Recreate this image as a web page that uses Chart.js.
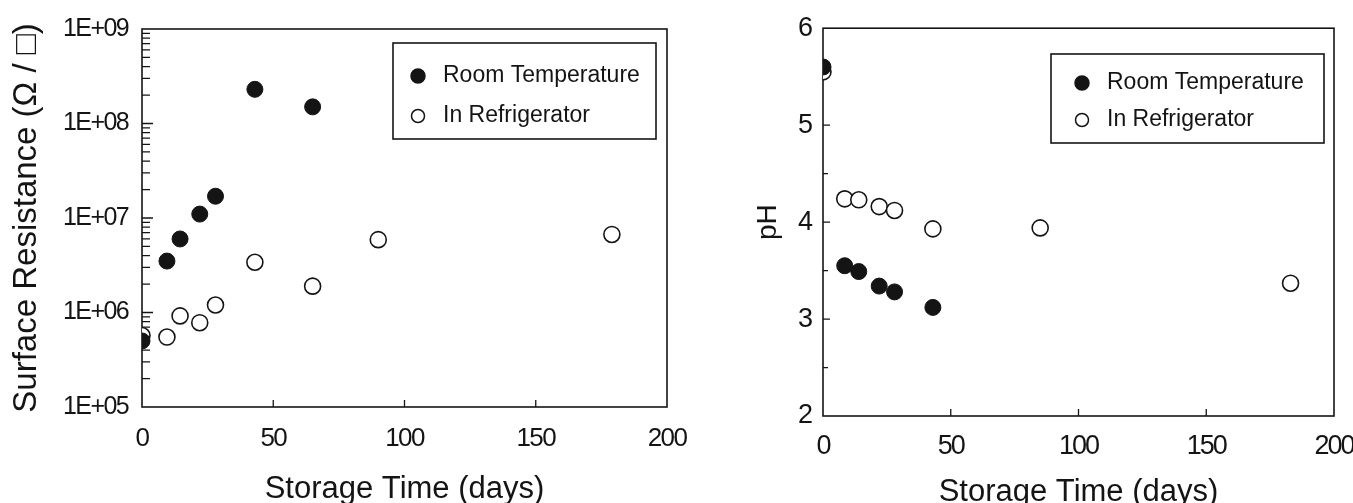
<!DOCTYPE html>
<html>
<head>
<meta charset="utf-8">
<script src="https://cdn.jsdelivr.net/npm/chart.js@4.4.1/dist/chart.umd.min.js"></script>
<style>
  html, body { margin: 0; padding: 0; background: #fff; overflow: hidden; }
  body { width: 1353px; height: 503px; position: relative; }
  .panel { position: absolute; top: 0; height: 503px; }
  #left { left: 0; width: 720px; }
  #right { left: 740px; width: 613px; overflow: hidden; }
  #right .inner { position: relative; width: 680px; height: 503px; }
</style>
</head>
<body>
<div class="panel" id="left"><canvas id="resChart"></canvas></div>
<div class="panel" id="right"><div class="inner"><canvas id="phChart"></canvas></div></div>
<script>
// Surface resistance (ohm/sq) vs storage time
const resDaysRoom   = [0, 9.5, 14.5, 22, 28, 43, 65];
const resRoom       = [5.0e5, 3.5e6, 6.0e6, 1.1e7, 1.7e7, 2.3e8, 1.5e8];
const resDaysFridge = [0, 9.5, 14.5, 22, 28, 43, 65, 90, 179];
const resFridge     = [5.7e5, 5.5e5, 9.2e5, 7.8e5, 1.2e6, 3.4e6, 1.9e6, 5.9e6, 6.7e6];

// pH vs storage time
const phDaysRoom   = [0, 8.5, 14, 22, 28, 43];
const phRoom       = [5.60, 3.55, 3.49, 3.34, 3.28, 3.12];
const phDaysFridge = [0, 8.5, 14, 22, 28, 43, 85, 183];
const phFridge     = [5.55, 4.24, 4.23, 4.16, 4.12, 3.93, 3.94, 3.37];

// axis ticks
const dayTicks   = [0, 50, 100, 150, 200];
const resDecades = [1e5, 1e6, 1e7, 1e8, 1e9];
const resMinors  = [2, 3, 4, 5, 6, 7, 8, 9];
const phTicks    = [2, 2.5, 3, 3.5, 4, 4.5, 5, 5.5, 6];

const seriesNames = ['Room Temperature', 'In Refrigerator'];

const ink = '#141414';
const sans = "'Liberation Sans', Arial, sans-serif";

function toPoints(xs, ys) {
    return xs.map((x, i) => ({ x: x, y: ys[i] }));
}

function isDecade(v) {
    const l = Math.log10(v);
    return Math.abs(l - Math.round(l)) < 1e-9;
}

function logTicks() {
    const out = [];
    resDecades.forEach((d, i) => {
        out.push({ value: d, major: true });
        if (i < resDecades.length - 1) resMinors.forEach(m => out.push({ value: d * m, major: false }));
    });
    return out;
}

// box around the plot area
const frame = {
    id: 'frame',
    beforeDatasetsDraw(chart) {
        const { ctx, chartArea: a } = chart;
        ctx.save();
        ctx.strokeStyle = ink;
        ctx.lineWidth = 1.6;
        ctx.strokeRect(a.left, a.top, a.right - a.left, a.bottom - a.top);
        ctx.restore();
    }
};

// tick marks pointing into the plot
const innerTicks = {
    id: 'innerTicks',
    beforeDatasetsDraw(chart, args, opts) {
        const { ctx, chartArea: a } = chart;
        const xs = chart.scales.x, ys = chart.scales.y;
        ctx.save();
        ctx.strokeStyle = ink;
        ctx.lineWidth = 1.3;
        ctx.beginPath();
        xs.ticks.forEach(t => {
            const px = xs.getPixelForValue(t.value);
            if (px <= a.left + 1 || px >= a.right - 1) return;
            ctx.moveTo(px, a.bottom);
            ctx.lineTo(px, a.bottom - opts.xLen);
        });
        ys.ticks.forEach(t => {
            const py = ys.getPixelForValue(t.value);
            if (py <= a.top + 1 || py >= a.bottom - 1) return;
            ctx.moveTo(a.left, py);
            ctx.lineTo(a.left + (t.major ? opts.yMajor : opts.yMinor), py);
        });
        ctx.stroke();
        ctx.restore();
    }
};

// tick labels sit on a layer drawn after the datasets; squeeze them like a narrow face
const tightLabels = {
    id: 'tightLabels',
    afterDatasetsDraw(chart, args, opts) { chart.ctx.letterSpacing = opts.spacing; },
    afterDraw(chart) { chart.ctx.letterSpacing = '0px'; }
};

// legend drawn inside the plot, in a box
const boxLegend = {
    id: 'boxLegend',
    afterDraw(chart, args, opts) {
        const { ctx } = chart;
        ctx.save();
        ctx.letterSpacing = '0px';
        ctx.strokeStyle = ink;
        ctx.lineWidth = 1.6;
        ctx.strokeRect(opts.x, opts.y, opts.w, opts.h);
        ctx.font = opts.size + 'px ' + sans;
        ctx.textBaseline = 'middle';
        ctx.textAlign = 'left';
        chart.data.datasets.forEach((ds, i) => {
            const ry = opts.rows[i];
            ctx.beginPath();
            ctx.arc(opts.markerX, ry, i === 0 ? 7 : 6.5, 0, Math.PI * 2);
            ctx.fillStyle = ds.pointBackgroundColor;
            ctx.fill();
            ctx.lineWidth = 1.5;
            ctx.strokeStyle = ds.pointBorderColor;
            ctx.stroke();
            ctx.fillStyle = ink;
            ctx.fillText(ds.label, opts.textX, ry);
        });
        ctx.restore();
    }
};

function datasets(dRoom, vRoom, dFridge, vFridge) {
    return [
        {
            label: seriesNames[0],
            data: toPoints(dRoom, vRoom),
            pointRadius: 8,
            pointBackgroundColor: ink,
            pointBorderColor: ink,
            pointBorderWidth: 1
        },
        {
            label: seriesNames[1],
            data: toPoints(dFridge, vFridge),
            pointRadius: 8,
            pointBackgroundColor: '#ffffff',
            pointBorderColor: ink,
            pointBorderWidth: 1.6
        }
    ];
}

function xAxis(height, fontSize, pad, titlePad) {
    return {
        type: 'linear',
        min: 0,
        max: 200,
        afterBuildTicks: s => { s.ticks = dayTicks.map(v => ({ value: v })); },
        afterFit: s => { s.height = height; },
        grid: { display: false, drawTicks: false },
        border: { display: false },
        ticks: {
            z: 1,
            font: { family: sans, size: fontSize, lineHeight: 1.2 },
            color: ink, padding: pad, maxRotation: 0, autoSkip: false
        },
        title: {
            display: true,
            text: 'Storage Time (days)',
            font: { family: sans, size: 31, lineHeight: 1 },
            color: ink,
            padding: { top: 0, bottom: titlePad }
        }
    };
}

window.addEventListener('DOMContentLoaded', () => {
    new Chart(document.getElementById('resChart'), {
        type: 'scatter',
        data: { datasets: datasets(resDaysRoom, resRoom, resDaysFridge, resFridge) },
        options: {
            responsive: true,
            maintainAspectRatio: false,
            animation: false,
            layout: { padding: { top: 25, right: 53, left: 0, bottom: 0 }, autoPadding: false },
            plugins: {
                legend: { display: false },
                tooltip: { enabled: false },
                innerTicks: { xLen: 7, yMajor: 11, yMinor: 8 },
                tightLabels: { spacing: '-1.6px' },
                boxLegend: { x: 393, y: 43, w: 263, h: 96, rows: [76, 116], markerX: 418, textX: 443, size: 23 }
            },
            scales: {
                x: xAxis(96, 26, 16, -2),
                y: {
                    type: 'logarithmic',
                    min: 1e5,
                    max: 1e9,
                    afterBuildTicks: s => { s.ticks = logTicks(); },
                    afterFit: s => { s.width = 142; },
                    grid: { display: false, drawTicks: false },
                    border: { display: false },
                    ticks: {
                        z: 1,
                        font: { family: sans, size: 25, lineHeight: 1.2 },
                        color: ink, padding: 14, autoSkip: false,
                        callback: v => isDecade(v) ? '1E+0' + Math.round(Math.log10(v)) : ''
                    },
                    title: {
                        display: true,
                        text: 'Surface Resistance (Ω / □)',
                        font: { family: sans, size: 33, lineHeight: 1 },
                        color: ink,
                        padding: { top: 10, bottom: 0 }
                    }
                }
            }
        },
        plugins: [frame, innerTicks, tightLabels, boxLegend]
    });

    new Chart(document.getElementById('phChart'), {
        type: 'scatter',
        data: { datasets: datasets(phDaysRoom, phRoom, phDaysFridge, phFridge) },
        options: {
            responsive: true,
            maintainAspectRatio: false,
            animation: false,
            layout: { padding: { top: 24, right: 86, left: 0, bottom: 0 }, autoPadding: false },
            plugins: {
                legend: { display: false },
                tooltip: { enabled: false },
                innerTicks: { xLen: 7, yMajor: 7, yMinor: 5 },
                tightLabels: { spacing: '-2px' },
                boxLegend: { x: 311, y: 54, w: 273, h: 89, rows: [83, 120], markerX: 342, textX: 367, size: 23 }
            },
            scales: {
                x: xAxis(87, 27, 14, -5),
                y: {
                    type: 'linear',
                    min: 2,
                    max: 6,
                    afterBuildTicks: s => { s.ticks = phTicks.map(v => ({ value: v, major: Number.isInteger(v) })); },
                    afterFit: s => { s.width = 83; },
                    grid: { display: false, drawTicks: false },
                    border: { display: false },
                    ticks: {
                        z: 1,
                        font: { family: sans, size: 27, lineHeight: 1.2 },
                        color: ink, padding: 12, autoSkip: false,
                        callback: v => Number.isInteger(v) ? String(v) : ''
                    },
                    title: {
                        display: true,
                        text: 'pH',
                        font: { family: sans, size: 28, lineHeight: 1 },
                        color: ink,
                        padding: { top: 14, bottom: 0 }
                    }
                }
            }
        },
        plugins: [frame, innerTicks, tightLabels, boxLegend]
    });
});
</script>
</body>
</html>
